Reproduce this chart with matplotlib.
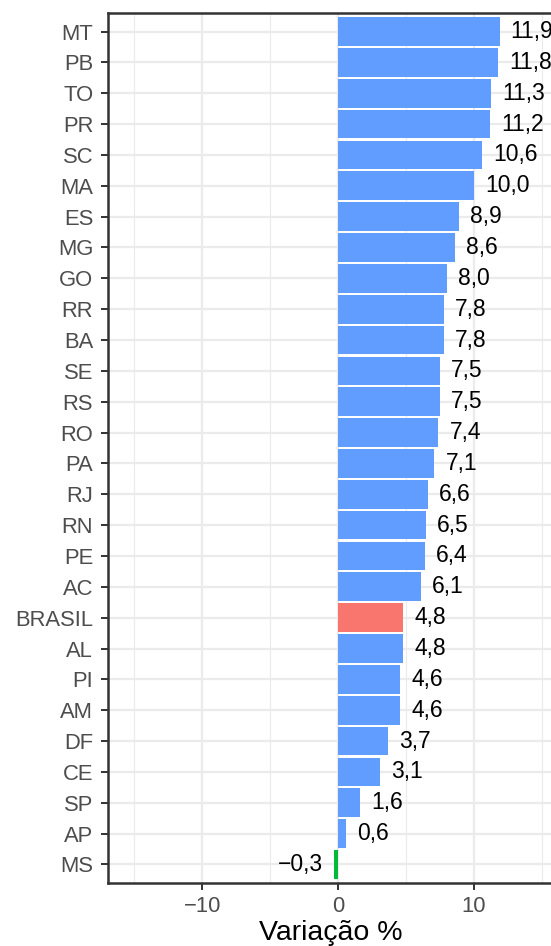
import matplotlib.pyplot as plt
import numpy as np

plt.rcParams['font.family'] = ['Liberation Sans', 'DejaVu Sans']

estados = ['MT', 'PB', 'TO', 'PR', 'SC', 'MA', 'ES', 'MG', 'GO', 'RR', 'BA', 'SE', 'RS', 'RO',
           'PA', 'RJ', 'RN', 'PE', 'AC', 'BRASIL', 'AL', 'PI', 'AM', 'DF', 'CE', 'SP', 'AP', 'MS']
variacao = [11.9, 11.8, 11.3, 11.2, 10.6, 10.0, 8.9, 8.6, 8.0, 7.8, 7.8, 7.5, 7.5, 7.4,
            7.1, 6.6, 6.5, 6.4, 6.1, 4.8, 4.8, 4.6, 4.6, 3.7, 3.1, 1.6, 0.6, -0.3]

def cor(nome, v):
    if nome == 'BRASIL':
        return '#F8766D'
    if v < 0:
        return '#00BA38'
    return '#619CFF'

cores = [cor(n, v) for n, v in zip(estados, variacao)]

fig = plt.figure(figsize=(5.51, 9.46), dpi=100)
W, H = 551, 946
left, right = 108, 553
top, bottom = 13, 883
ax = fig.add_axes([left / W, 1 - bottom / H, (right - left) / W, (bottom - top) / H])

n = len(estados)
y = np.arange(n)[::-1]
ax.barh(y, variacao, height=0.93, color=cores, zorder=3)

for yi, v in zip(y, variacao):
    txt = ('%.1f' % abs(v)).replace('.', ',')
    if v < 0:
        ax.annotate('\u2212' + txt, (v, yi), xytext=(-8, 0),
                    textcoords='offset points', ha='right', va='center', fontsize=16.5)
    else:
        ax.annotate(txt, (v, yi), xytext=(8, 0), textcoords='offset points',
                    ha='left', va='center', fontsize=16.5, annotation_clip=False)

ax.set_xlim(-16.95, 15.84)
ax.set_ylim(-0.6, n - 0.4)
ax.set_yticks(y)
ax.set_yticklabels(estados)
ax.set_xticks([-10, 0, 10])
ax.set_xticklabels(['\u221210', '0', '10'])
ax.set_xticks([-15, -5, 5, 15], minor=True)
ax.set_yticks([], minor=True)
ax.grid(True, which='major', color='#EBEBEB', linewidth=1.6, zorder=0)
ax.grid(True, which='minor', axis='x', color='#EBEBEB', linewidth=0.8, zorder=0)
ax.set_axisbelow(True)
ax.tick_params(axis='both', which='major', length=4.7, width=1.4, color='#333333',
               labelcolor='#4D4D4D', labelsize=15.8)
ax.tick_params(axis='y', which='major', pad=6)
ax.tick_params(axis='x', which='major', pad=4.5)
ax.tick_params(axis='x', which='minor', length=0)
for s in ax.spines.values():
    s.set_color('#333333')
    s.set_linewidth(1.8)
ax.spines['right'].set_visible(False)
ax.set_xlabel('Variação %', fontsize=20.5, labelpad=2)

fig.savefig('out.png', dpi=100)
